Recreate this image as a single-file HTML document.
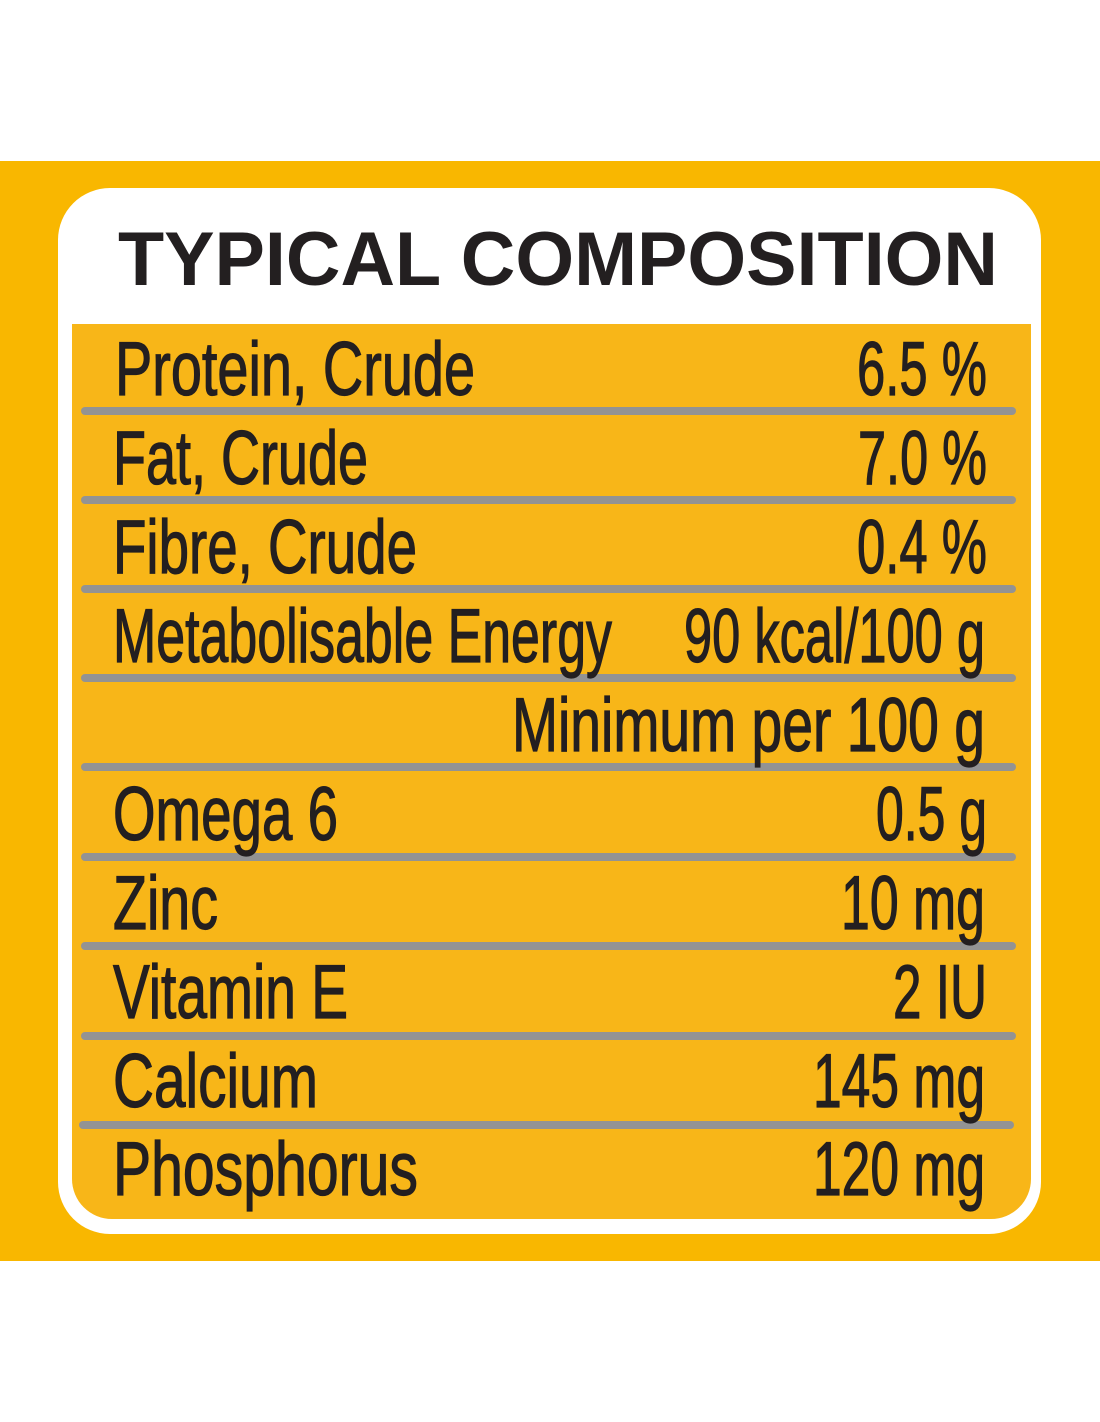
<!DOCTYPE html>
<html><head><meta charset="utf-8"><style>html,body{margin:0;padding:0;background:#fff}svg{display:block}</style></head>
<body>
<svg width="1100" height="1422" viewBox="0 0 1100 1422" xmlns="http://www.w3.org/2000/svg">
<rect x="0" y="161" width="1100" height="1100" fill="#f9b700"/>
<rect x="58" y="188" width="983" height="1046" rx="52" fill="#fff"/>
<path d="M72 324 H1031 V1179 A40 40 0 0 1 991 1219 H112 A40 40 0 0 1 72 1179 Z" fill="#f8b618"/>
<g stroke="#939393" stroke-width="8" stroke-linecap="round">
<line x1="85" y1="411" x2="1012" y2="411"/>
<line x1="85" y1="500" x2="1012" y2="500"/>
<line x1="85" y1="589" x2="1012" y2="589"/>
<line x1="85" y1="678" x2="1012" y2="678"/>
<line x1="85" y1="767" x2="1012" y2="767"/>
<line x1="85" y1="857" x2="1012" y2="857"/>
<line x1="85" y1="946" x2="1012" y2="946"/>
<line x1="85" y1="1036" x2="1012" y2="1036"/>
<line x1="83" y1="1125" x2="1010" y2="1125"/>
</g>
<text x="118" y="285" font-family="Liberation Sans, sans-serif" font-weight="bold" font-size="76" fill="#231f20" textLength="880" lengthAdjust="spacingAndGlyphs">TYPICAL COMPOSITION</text>
<g font-family="Liberation Sans, sans-serif" font-size="76" fill="#231f20" stroke="#231f20" stroke-width="1.2">
<text x="115" y="395" textLength="360" lengthAdjust="spacingAndGlyphs">Protein, Crude</text>
<text x="857" y="395" textLength="130" lengthAdjust="spacingAndGlyphs">6.5 %</text>
<text x="113" y="484" textLength="255" lengthAdjust="spacingAndGlyphs">Fat, Crude</text>
<text x="858" y="484" textLength="129" lengthAdjust="spacingAndGlyphs">7.0 %</text>
<text x="113" y="573" textLength="304" lengthAdjust="spacingAndGlyphs">Fibre, Crude</text>
<text x="857" y="573" textLength="130" lengthAdjust="spacingAndGlyphs">0.4 %</text>
<text x="113" y="662" textLength="499" lengthAdjust="spacingAndGlyphs">Metabolisable Energy</text>
<text x="684" y="662" textLength="301" lengthAdjust="spacingAndGlyphs">90 kcal/100 g</text>
<text x="512" y="751" textLength="473" lengthAdjust="spacingAndGlyphs">Minimum per 100 g</text>
<text x="113" y="840" textLength="225" lengthAdjust="spacingAndGlyphs">Omega 6</text>
<text x="876" y="840" textLength="111" lengthAdjust="spacingAndGlyphs">0.5 g</text>
<text x="113" y="929" textLength="105" lengthAdjust="spacingAndGlyphs">Zinc</text>
<text x="841" y="929" textLength="144" lengthAdjust="spacingAndGlyphs">10 mg</text>
<text x="113" y="1018" textLength="235" lengthAdjust="spacingAndGlyphs">Vitamin E</text>
<text x="893" y="1018" textLength="94" lengthAdjust="spacingAndGlyphs">2 IU</text>
<text x="113" y="1107" textLength="205" lengthAdjust="spacingAndGlyphs">Calcium</text>
<text x="813" y="1107" textLength="172" lengthAdjust="spacingAndGlyphs">145 mg</text>
<text x="113" y="1195" textLength="305" lengthAdjust="spacingAndGlyphs">Phosphorus</text>
<text x="813" y="1195" textLength="172" lengthAdjust="spacingAndGlyphs">120 mg</text>
</g>
</svg>
</body></html>
